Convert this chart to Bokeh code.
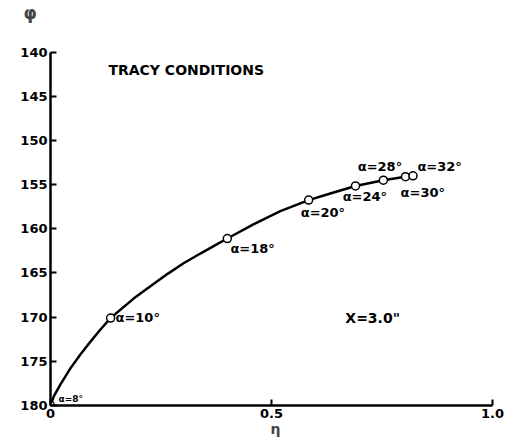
from bokeh.plotting import figure
from bokeh.models import Range1d, FixedTicker, Label
from bokeh.embed import file_html
from bokeh.resources import INLINE

# Measured operating points (flow coefficient eta vs. angle phi)
alpha_deg = [8, 10, 18, 20, 24, 28, 30, 32]
eta = [0.0, 0.136, 0.40, 0.584, 0.69, 0.753, 0.803, 0.82]
phi = [180.0, 170.1, 161.1, 156.75, 155.15, 154.5, 154.1, 154.0]

# Faired curve through the points
curve_eta = [0.0, 0.008, 0.0226, 0.045, 0.068, 0.090, 0.113, 0.136, 0.188, 0.226,
             0.265, 0.301, 0.339, 0.378, 0.40, 0.459, 0.52, 0.584, 0.633, 0.69,
             0.753, 0.803, 0.82]
curve_phi = [180.0, 178.9, 177.6, 175.8, 174.2, 172.8, 171.4, 170.1, 167.9, 166.5,
             165.1, 163.9, 162.8, 161.7, 161.1, 159.5, 158.0, 156.75, 156.0, 155.15,
             154.5, 154.1, 154.0]

# Point annotations: text, x, y
ann_text = ["α=8°", "α=10°", "α=18°", "α=20°", "α=24°", "α=28°", "α=32°", "α=30°"]
ann_x = [0.018, 0.147, 0.407, 0.566, 0.661, 0.695, 0.83, 0.792]
ann_y = [179.3, 170.0, 162.2, 158.1, 156.4, 152.9, 153.0, 155.9]

y_ticks = [140, 145, 150, 155, 160, 165, 170, 175, 180]
x_ticks = [0, 0.5, 1.0]
x_tick_labels = {0: "0", 0.5: "0.5", 1.0: "1.0"}

FONT = "DejaVu Sans"

p = figure(width=506, height=446, output_backend="svg", toolbar_location=None,
           x_range=Range1d(0, 1.018), y_range=Range1d(180, 136.65),
           min_border_left=50, min_border_right=6, min_border_top=0,
           min_border_bottom=41)
p.grid.visible = False
p.outline_line_color = None
p.background_fill_color = "white"

# Axis symbol for phi, set as the title at the top-left corner
p.title.text = "φ"
p.title.align = "left"
p.title.offset = -27
p.title.text_font = FONT
p.title.text_font_style = "bold"
p.title.text_font_size = "17px"
p.title.standoff = 0

for ax in (p.xaxis[0], p.yaxis[0]):
    ax.axis_line_width = 2.5
    ax.axis_line_color = "black"
    ax.major_tick_line_width = 2
    ax.major_tick_in = 6
    ax.major_tick_out = 0
    ax.minor_tick_line_color = None
    ax.major_label_text_font = FONT
    ax.major_label_text_font_style = "bold"
    ax.major_label_text_font_size = "13px"
    ax.major_label_text_color = "black"

p.yaxis.ticker = FixedTicker(ticks=y_ticks)
p.yaxis.bounds = (140, 180)
p.yaxis.major_label_standoff = 3

p.xaxis.ticker = FixedTicker(ticks=x_ticks)
p.xaxis.bounds = (0, 1.0)
p.xaxis.major_label_overrides = x_tick_labels
p.xaxis.major_label_standoff = 3
p.xaxis.axis_label = "η"
p.xaxis.axis_label_text_font = FONT
p.xaxis.axis_label_text_font_style = "bold"
p.xaxis.axis_label_text_font_size = "14px"
p.xaxis.axis_label_standoff = 0

p.line(curve_eta, curve_phi, line_color="black", line_width=2.5)
p.scatter(eta, phi, marker="circle", size=8, fill_color="white",
          line_color="black", line_width=1.5)

for t, x, y in zip(ann_text, ann_x, ann_y):
    size = "9px" if t == "α=8°" else "13px"
    p.add_layout(Label(x=x, y=y, text=t, text_font=FONT, text_font_style="bold",
                       text_font_size=size, text_baseline="middle",
                       text_color="black"))

p.add_layout(Label(x=0.131, y=142.0, text="TRACY CONDITIONS", text_font=FONT,
                   text_font_style="bold", text_font_size="14px",
                   text_baseline="middle", text_color="black"))
p.add_layout(Label(x=0.667, y=170.1, text="X=3.0\"", text_font=FONT,
                   text_font_style="bold", text_font_size="14px",
                   text_baseline="middle", text_color="black"))

open("out.html", "w").write(file_html(p, INLINE))
